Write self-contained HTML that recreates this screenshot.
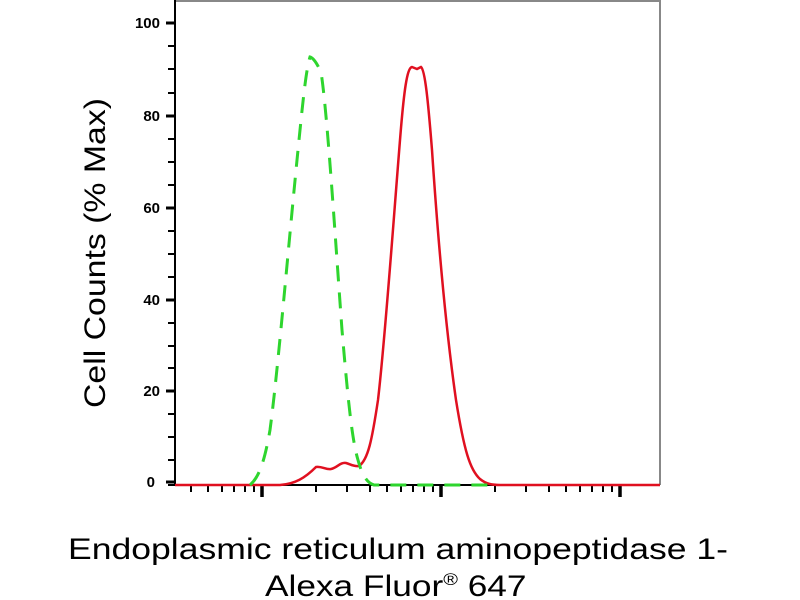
<!DOCTYPE html>
<html><head><style>body{margin:0;background:#fff}svg{display:block}</style></head><body>
<svg width="800" height="600" xmlns="http://www.w3.org/2000/svg" font-family="Liberation Sans, sans-serif">
<rect width="800" height="600" fill="#fff"/>
<polyline points="175,485 175,1 660,1 660,485" fill="none" stroke="#888" stroke-width="2"/>
<line x1="175" y1="0" x2="175" y2="486" stroke="#000" stroke-width="2"/>
<line x1="168" y1="485" x2="660" y2="485" stroke="#000" stroke-width="2"/>
<g stroke="#000" stroke-width="3">
<line x1="166" y1="23" x2="176" y2="23"/><line x1="166" y1="116" x2="176" y2="116"/>
<line x1="166" y1="208" x2="176" y2="208"/><line x1="166" y1="300" x2="176" y2="300"/>
<line x1="166" y1="391" x2="176" y2="391"/><line x1="166" y1="482" x2="176" y2="482"/>
</g>
<g stroke="#000" stroke-width="2">
<line x1="168" y1="46" x2="175" y2="46"/><line x1="168" y1="69" x2="175" y2="69"/><line x1="168" y1="93" x2="175" y2="93"/>
<line x1="168" y1="139" x2="175" y2="139"/><line x1="168" y1="162" x2="175" y2="162"/><line x1="168" y1="185" x2="175" y2="185"/>
<line x1="168" y1="231" x2="175" y2="231"/><line x1="168" y1="254" x2="175" y2="254"/><line x1="168" y1="277" x2="175" y2="277"/>
<line x1="168" y1="323" x2="175" y2="323"/><line x1="168" y1="346" x2="175" y2="346"/><line x1="168" y1="368" x2="175" y2="368"/>
<line x1="168" y1="414" x2="175" y2="414"/><line x1="168" y1="437" x2="175" y2="437"/><line x1="168" y1="460" x2="175" y2="460"/>
</g>
<g font-size="15" font-weight="bold" text-anchor="end" fill="#000">
<text x="160" y="28">100</text><text x="160" y="121">80</text><text x="160" y="213">60</text>
<text x="160" y="305">40</text><text x="160" y="396">20</text><text x="155" y="487">0</text>
</g>
<g stroke="#000" stroke-width="2">
<line x1="191" y1="485" x2="191" y2="492"/><line x1="208" y1="485" x2="208" y2="492"/><line x1="222" y1="485" x2="222" y2="492"/><line x1="234" y1="485" x2="234" y2="492"/><line x1="245" y1="485" x2="245" y2="492"/><line x1="254" y1="485" x2="254" y2="492"/>
<line x1="316" y1="485" x2="316" y2="492"/><line x1="347" y1="485" x2="347" y2="492"/><line x1="370" y1="485" x2="370" y2="492"/><line x1="387" y1="485" x2="387" y2="492"/><line x1="401" y1="485" x2="401" y2="492"/><line x1="413" y1="485" x2="413" y2="492"/><line x1="424" y1="485" x2="424" y2="492"/><line x1="433" y1="485" x2="433" y2="492"/>
<line x1="495" y1="485" x2="495" y2="492"/><line x1="526" y1="485" x2="526" y2="492"/><line x1="549" y1="485" x2="549" y2="492"/><line x1="566" y1="485" x2="566" y2="492"/><line x1="580" y1="485" x2="580" y2="492"/><line x1="592" y1="485" x2="592" y2="492"/><line x1="603" y1="485" x2="603" y2="492"/><line x1="612" y1="485" x2="612" y2="492"/>
</g>
<g stroke="#000" stroke-width="3.5">
<line x1="262" y1="485" x2="262" y2="497"/><line x1="441" y1="485" x2="441" y2="497"/><line x1="620" y1="485" x2="620" y2="497"/>
</g>
<path d="M175,485 L280,485 C295,484 305,478 316,467 C322,466 326,470 331,469 C337,468 340,462 346,463 C350,464 354,467 359,466 C368,460 372,440 378,400 C385,340 392,240 400,140 C404,90 407,68 412,67 L417,69 L421,67 C425,70 428,100 432,150 C438,240 446,330 456,400 C464,450 470,470 480,479 C486,484 492,485 500,485 L660,485" fill="none" stroke="#e01020" stroke-width="2.5"/>
<path d="M250,485 C258,478 264,465 270,430 C278,370 288,250 298,150 C303,100 306,70 310,57 C314,58 317,64 321,72 C327,110 334,220 342,330 C348,400 352,440 358,460 C362,475 367,483 374,485 L490,485" fill="none" stroke="#2ed52e" stroke-width="3" stroke-dasharray="16,11"/>
<text transform="translate(105,408) rotate(-90)" font-size="30" textLength="310" lengthAdjust="spacingAndGlyphs" fill="#000">Cell Counts (% Max)</text>
<text x="68" y="559" font-size="30" textLength="660" lengthAdjust="spacingAndGlyphs" fill="#000">Endoplasmic reticulum aminopeptidase 1-</text>
<text x="265" y="596" font-size="30" fill="#000" transform="translate(265,0) scale(1.175,1) translate(-265,0)">Alexa Fluor<tspan font-size="17" dy="-11">®</tspan><tspan dy="11"> 647</tspan></text>
</svg>
</body></html>
